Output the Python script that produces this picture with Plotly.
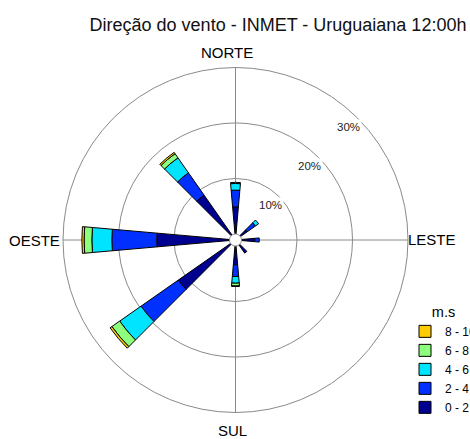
import math
import plotly.graph_objects as go

# Rosa dos ventos - frequência (%) por direção e classe de velocidade (m/s)
direcoes = [0, 50, 90, 140, 180, 230, 270, 320]
classes = ["0 - 2", "2 - 4", "4 - 6", "6 - 8", "8 - 10"]
cores = ["#000090", "#0030ff", "#00e4ff", "#8cff7c", "#ffcc00"]

freq_0_2 = [4.9, 1.5, 2.4, 1.8, 3.4, 11.5, 13.1, 8.8]
freq_2_4 = [3.0, 1.8, 0.8, 0.0, 2.1, 8.2, 8.1, 4.9]
freq_4_6 = [1.2, 0.7, 0.0, 0.0, 1.2, 4.7, 3.6, 3.3]
freq_6_8 = [0.2, 0.0, 0.0, 0.0, 0.5, 1.7, 1.4, 0.9]
freq_8_10 = [0.0, 0.0, 0.0, 0.0, 0.1, 0.4, 0.4, 0.3]

rotulos_dir = ["NORTE", "LESTE", "SUL", "OESTE"]
ticks_r = [10, 20, 30]

FONTE = "Liberation Sans, Arial, sans-serif"
GRADE = "#8a8a8a"
W, H = 470, 439

# área do gráfico polar (px)
X0, X1, Y0, Y1 = 63, 408, 67, 413
HOLE = 0.035
R_MAX = 30

fig = go.Figure()
for nome, cor, freq in zip(classes, cores,
                           [freq_0_2, freq_2_4, freq_4_6, freq_6_8, freq_8_10]):
    fig.add_trace(go.Barpolar(
        r=freq, theta=direcoes, width=10, name=nome,
        marker=dict(color=cor, line=dict(color="black", width=1)),
    ))

# rótulos das direções
pos_dir = {"NORTE": (227, 52, "center"), "LESTE": (406, 239, "left"),
           "SUL": (232, 430, "center"), "OESTE": (62, 240, "right")}
for txt in rotulos_dir:
    px, py, anc = pos_dir[txt]
    fig.add_annotation(text=txt, x=px / W, y=1 - py / H, xref="paper", yref="paper",
                       xanchor=anc, yanchor="middle", showarrow=False,
                       font=dict(size=15, color="black"))

# rótulos do eixo radial (a 45°, por dentro de cada círculo)
cx, cy = (X0 + X1) / 2, (Y0 + Y1) / 2
raio = (X1 - X0) / 2
for v in ticks_r:
    d = raio * (HOLE + (1 - HOLE) * v / R_MAX) - 12
    fig.add_annotation(text=f"{v}%", x=(cx + d / math.sqrt(2)) / W,
                       y=1 - (cy - d / math.sqrt(2)) / H,
                       xref="paper", yref="paper", xanchor="center", yanchor="middle",
                       showarrow=False, font=dict(size=11.5, color="#222"),
                       bgcolor="white", borderpad=1)

fig.update_layout(
    width=W, height=H,
    margin=dict(l=0, r=0, t=0, b=0, autoexpand=False),
    paper_bgcolor="white",
    font=dict(family=FONTE, color="black"),
    title=dict(text="Direção do vento - INMET - Uruguaiana 12:00h",
               x=278 / W, xanchor="center", y=1 - 25 / H, yanchor="middle",
               font=dict(size=18, color="#111")),
    polar=dict(
        domain=dict(x=[X0 / W, X1 / W], y=[1 - Y1 / H, 1 - Y0 / H]),
        hole=HOLE,
        bgcolor="white",
        barmode="stack",
        radialaxis=dict(range=[0, R_MAX], tickvals=ticks_r, showticklabels=False,
                        showline=False, ticks="", gridcolor=GRADE, gridwidth=1),
        angularaxis=dict(rotation=90, direction="clockwise",
                         tickvals=[0, 90, 180, 270], showticklabels=False,
                         ticks="", showline=True, linecolor=GRADE, linewidth=1,
                         gridcolor=GRADE, gridwidth=1),
    ),
    legend=dict(title=dict(text="m.s", font=dict(size=14.5), side="top center"),
                traceorder="reversed", x=405 / W, xanchor="left",
                y=1 - 298 / H, yanchor="top",
                font=dict(size=12), bgcolor="rgba(0,0,0,0)"),
)

fig.write_html("out.html", config={"displayModeBar": False},
               post_script="document.body.style.margin='0';")
